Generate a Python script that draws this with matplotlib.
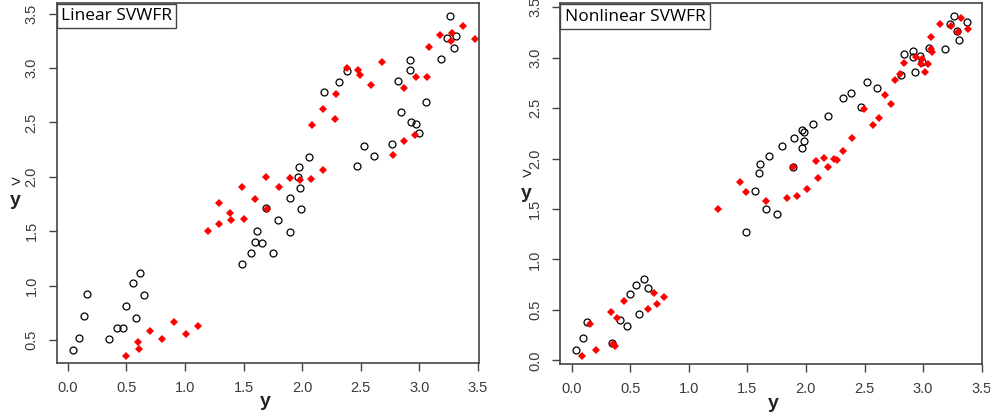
import matplotlib.pyplot as plt

plt.rcParams["font.family"] = ["Liberation Sans", "DejaVu Sans"]

# Linear SVWFR panel
lin_black_x = [0.043, 0.10, 0.137, 0.165, 0.35, 0.42, 0.475, 0.50, 0.555, 0.58, 0.62, 0.655,
               1.49, 1.567, 1.754, 1.598, 1.66, 1.615, 1.897, 1.797, 1.69, 1.988, 1.897, 1.985,
               1.965, 1.971, 2.059, 2.19, 2.315, 2.383, 2.47, 2.525, 2.61, 2.765, 2.84, 2.93,
               2.975, 2.995, 3.055, 2.816, 2.918, 2.918, 3.185, 3.24, 3.316, 3.296, 3.26]
lin_black_y = [0.41, 0.52, 0.72, 0.92, 0.51, 0.61, 0.61, 0.815, 1.02, 0.705, 1.115, 0.91,
               1.20, 1.30, 1.297, 1.40, 1.394, 1.505, 1.495, 1.60, 1.716, 1.70, 1.805, 1.90,
               1.995, 2.09, 2.18, 2.78, 2.874, 2.97, 2.096, 2.286, 2.188, 2.30, 2.60, 2.50,
               2.485, 2.40, 2.69, 2.88, 2.98, 3.076, 3.08, 3.28, 3.29, 3.18, 3.48]
lin_red_x = [0.50, 0.60, 0.605, 0.70, 0.807, 0.904, 1.01, 1.109,
             1.195, 1.29, 1.293, 1.385, 1.393, 1.50, 1.49, 1.596, 1.69, 1.80, 1.703, 1.897,
             1.985, 2.08, 2.176, 2.085, 2.18, 2.278, 2.29,
             2.386, 2.477, 2.49, 2.59, 2.684, 2.773, 2.867, 2.963, 2.87, 2.97, 3.07, 3.08,
             3.174, 3.27, 3.28, 3.376, 3.475]
lin_red_y = [0.356, 0.48, 0.42, 0.585, 0.506, 0.663, 0.558, 0.629,
             1.50, 1.76, 1.57, 1.665, 1.606, 1.615, 1.904, 1.80, 1.995, 1.904, 1.70, 1.99,
             1.97, 1.977, 2.065, 2.476, 2.62, 2.53, 2.765,
             3.00, 2.98, 2.94, 2.84, 3.055, 2.197, 2.326, 2.387, 2.82, 2.92, 2.92, 3.196,
             3.30, 3.245, 3.32, 3.386, 3.27]

# Nonlinear SVWFR panel
nl_black_x = [0.036, 0.098, 0.135, 0.343, 0.417, 0.471, 0.499, 0.55, 0.579, 0.619, 0.653,
              1.489, 1.657, 1.753, 1.563, 1.597, 1.611, 1.685, 1.793, 1.893, 1.964, 1.981,
              1.896, 1.981, 1.964, 2.058, 2.186, 2.314, 2.382, 2.467, 2.521, 2.607, 2.814,
              2.928, 2.837, 2.911, 2.911, 2.974, 2.991, 3.048, 3.184, 3.232, 3.261, 3.372,
              3.289, 3.309]
nl_black_y = [0.099, 0.221, 0.383, 0.169, 0.40, 0.343, 0.658, 0.744, 0.459, 0.807, 0.714,
              1.27, 1.50, 1.451, 1.683, 1.861, 1.947, 2.03, 2.126, 1.92, 2.103, 2.178,
              2.208, 2.26, 2.285, 2.344, 2.42, 2.60, 2.652, 2.516, 2.758, 2.698, 2.83,
              2.863, 3.04, 3.065, 3.01, 3.02, 2.96, 3.10, 3.088, 3.33, 3.41, 3.356,
              3.27, 3.178]
nl_red_x = [0.092, 0.158, 0.212, 0.334, 0.357, 0.371, 0.388, 0.445, 0.65, 0.704, 0.732, 0.789,
            1.253, 1.438, 1.486, 1.66, 1.841, 1.924, 1.893, 2.007, 2.101, 2.086, 2.157, 2.186,
            2.242, 2.265, 2.319, 2.393, 2.493, 2.572, 2.626, 2.672, 2.729, 2.757, 2.806,
            2.837, 2.937, 2.982, 2.991, 3.019, 3.039, 3.065, 3.08, 3.065, 3.147, 3.238,
            3.295, 3.326, 3.383]
nl_red_y = [0.046, 0.357, 0.105, 0.482, 0.162, 0.142, 0.423, 0.591, 0.509, 0.664, 0.555, 0.628,
            1.504, 1.77, 1.673, 1.58, 1.613, 1.627, 1.915, 1.703, 1.809, 1.98, 2.007, 1.915,
            2.00, 1.99, 2.073, 2.208, 2.49, 2.331, 2.40, 2.632, 2.543, 2.781, 2.84,
            2.952, 3.012, 2.94, 2.986, 2.86, 2.94, 3.09, 3.06, 3.21, 3.336, 3.317,
            3.26, 3.399, 3.284]

ticks = [0.0, 0.5, 1.0, 1.5, 2.0, 2.5, 3.0, 3.5]
tick_labels = ["0.0", "0.5", "1.0", "1.5", "2.0", "2.5", "3.0", "3.5"]

fig = plt.figure(figsize=(9.9, 4.16), dpi=100)
ax1 = fig.add_axes([0.0573, 0.1267, 0.4268, 0.8668])
ax2 = fig.add_axes([0.5660, 0.1250, 0.4262, 0.8671])

panels = [
    (ax1, lin_black_x, lin_black_y, lin_red_x, lin_red_y, "Linear SVWFR",
     (-0.094, 3.512), (0.286, 3.60)),
    (ax2, nl_black_x, nl_black_y, nl_red_x, nl_red_y, "Nonlinear SVWFR",
     (-0.096, 3.505), (-0.037, 3.54)),
]

for ax, bx, by, rx, ry, title, xl, yl in panels:
    ax.plot(bx, by, "o", mfc="none", mec="black", ms=5, mew=0.9, ls="none")
    ax.plot(rx, ry, "D", color="red", ms=3.8, mew=0, ls="none")
    ax.set_xlim(*xl)
    ax.set_ylim(*yl)
    ax.set_xticks(ticks)
    ax.set_xticklabels(tick_labels)
    yt_in = [t for t in ticks if yl[0] <= t <= yl[1] + 0.001]
    ax.set_yticks(yt_in)
    ax.set_yticklabels([f"{t:.1f}" for t in yt_in], rotation=90, va="center")
    ax.tick_params(length=6, width=1, colors="#444444", labelcolor="#3a3a3a",
                   labelsize=10.5, pad=7)
    for s in ax.spines.values():
        s.set_color("#444444")
        s.set_linewidth(1.2)
    ax.text(0.01, 0.985, title, transform=ax.transAxes, ha="left", va="top",
            fontsize=12.5, family=["Open Sans", "DejaVu Sans"],
            bbox=dict(boxstyle="square,pad=0.25", fc="white", ec="#444444", lw=1))

# axis labels: y below, and y with a hat (drawn as ">") on the left
lab = dict(fontsize=14, ha="center", va="center", color="#222222", fontweight="bold")
hat = dict(fontsize=12, ha="center", va="center", color="#222222")
fig.text(265 / 990, 1 - 402 / 416, "y", **lab)
fig.text(773 / 990, 1 - 403 / 416, "y", **lab)
fig.text(15 / 990, 1 - 201 / 416, "y", **lab)
fig.text(15 / 990, 1 - 183 / 416, ">", **hat)
fig.text(526 / 990, 1 - 193 / 416, "y", **lab)
fig.text(526 / 990, 1 - 175 / 416, ">", **hat)

fig.savefig("out.png", dpi=100)
